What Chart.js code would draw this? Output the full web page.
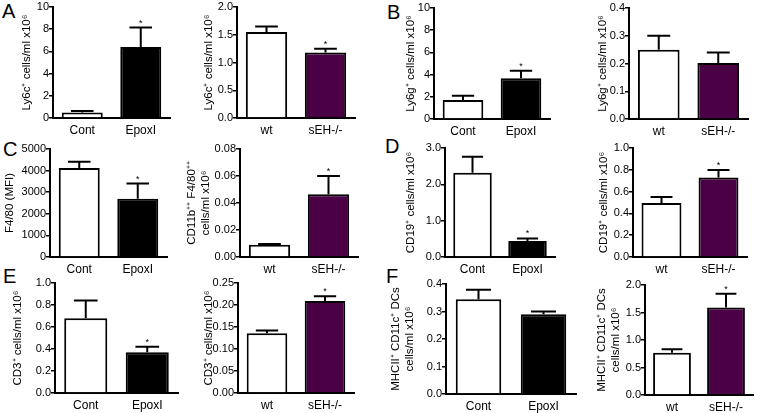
<!DOCTYPE html>
<html><head><meta charset="utf-8">
<script src="https://cdn.jsdelivr.net/npm/chart.js@4/dist/chart.umd.min.js"></script>
<style>
html,body{margin:0;padding:0;background:#fff;width:760px;height:413px;overflow:hidden;position:relative;font-family:"Liberation Sans",Arial,sans-serif}
canvas{position:absolute}
.lbl{position:absolute;font-size:20px;line-height:20px;color:#000;font-family:"Liberation Sans",Arial,sans-serif}
</style></head><body>
<div class="lbl" style="left:2px;top:1px">A</div>
<div class="lbl" style="left:387px;top:2px">B</div>
<div class="lbl" style="left:3px;top:139px">C</div>
<div class="lbl" style="left:385px;top:136px">D</div>
<div class="lbl" style="left:3px;top:266px">E</div>
<div class="lbl" style="left:386px;top:266px">F</div>
<script>
// ---- categories ----
const catsEpoxI = ['Cont', 'EpoxI'];
const catsKnockout = ['wt', 'sEH-/-'];

// ---- A: Ly6c+ ----
const ly6cEpoxIMean = [0.5, 6.4];
const ly6cEpoxISem = [0.12, 1.75];
const ly6cEpoxIStar = [false, true];
const ly6cKoMean = [1.55, 1.18];
const ly6cKoSem = [0.1, 0.07];
const ly6cKoStar = [false, true];

// ---- B: Ly6g+ ----
const ly6gEpoxIMean = [1.72, 3.67];
const ly6gEpoxISem = [0.38, 0.68];
const ly6gEpoxIStar = [false, true];
const ly6gKoMean = [0.25, 0.202];
const ly6gKoSem = [0.05, 0.038];
const ly6gKoStar = [false, false];

// ---- C: F4/80 ----
const f480EpoxIMean = [4120, 2700];
const f480EpoxISem = [290, 700];
const f480EpoxIStar = [false, true];
const cd11bKoMean = [0.0091, 0.0465];
const cd11bKoSem = [0.0006, 0.0135];
const cd11bKoStar = [false, true];

// ---- D: CD19+ ----
const cd19EpoxIMean = [2.32, 0.44];
const cd19EpoxISem = [0.44, 0.07];
const cd19EpoxIStar = [false, true];
const cd19KoMean = [0.495, 0.73];
const cd19KoSem = [0.055, 0.068];
const cd19KoStar = [false, true];

// ---- E: CD3+ ----
const cd3EpoxIMean = [0.68, 0.37];
const cd3EpoxISem = [0.16, 0.05];
const cd3EpoxIStar = [false, true];
const cd3KoMean = [0.136, 0.209];
const cd3KoSem = [0.006, 0.011];
const cd3KoStar = [false, true];

// ---- F: MHCII+ CD11c+ DCs ----
const dcEpoxIMean = [0.345, 0.29];
const dcEpoxISem = [0.034, 0.01];
const dcEpoxIStar = [false, false];
const dcKoMean = [0.77, 1.59];
const dcKoSem = [0.06, 0.25];
const dcKoStar = [false, true];

// ---- tick labels ----
const ticksA1 = ['0', '2', '4', '6', '8', '10'];
const ticksA2 = ['0.0', '0.5', '1.0', '1.5', '2.0'];
const ticksB1 = ['0', '2', '4', '6', '8', '10'];
const ticksB2 = ['0.0', '0.1', '0.2', '0.3', '0.4'];
const ticksC1 = ['0', '1000', '2000', '3000', '4000', '5000'];
const ticksC2 = ['0.00', '0.02', '0.04', '0.06', '0.08'];
const ticksD1 = ['0.0', '1.0', '2.0', '3.0'];
const ticksD2 = ['0.0', '0.2', '0.4', '0.6', '0.8', '1.0'];
const ticksE1 = ['0.0', '0.2', '0.4', '0.6', '0.8', '1.0'];
const ticksE2 = ['0.00', '0.05', '0.10', '0.15', '0.20', '0.25'];
const ticksF1 = ['0.0', '0.1', '0.2', '0.3', '0.4'];
const ticksF2 = ['0.0', '0.5', '1.0', '1.5', '2.0'];

// ---- axis titles ----
const titleLy6c = 'Ly6c\u207A cells/ml x10\u2076';
const titleLy6g = 'Ly6g\u207A cells/ml x10\u2076';
const titleF480 = 'F4/80 (MFI)';
const titleCd11b = ['CD11b\u207A\u207A F4/80\u207A\u207A', 'cells/ml x10\u2076'];
const titleCd19 = 'CD19\u207A cells/ml x10\u2076';
const titleCd3 = 'CD3\u207A cells/ml x10\u2076';
const titleDc = ['MHCII\u207A CD11c\u207A DCs', 'cells/ml x10\u2076'];

// ---- colours ----
const colEpoxI = ['#ffffff', '#000000'];
const colKo = ['#ffffff', '#4b0046'];

const FONT = '"Liberation Sans", Arial, sans-serif';
Chart.defaults.font.family = FONT;
Chart.defaults.color = '#000';

const panels = [
  {cats: catsEpoxI, mean: ly6cEpoxIMean, sem: ly6cEpoxISem, star: ly6cEpoxIStar, ticks: ticksA1, title: titleLy6c, col: colEpoxI,
   box: {axisX: 53, axisEnd: 170, top: 6.5, bottom: 117.5, titleX: 27}},
  {cats: catsKnockout, mean: ly6cKoMean, sem: ly6cKoSem, star: ly6cKoStar, ticks: ticksA2, title: titleLy6c, col: colKo,
   box: {axisX: 237, axisEnd: 355, top: 6.5, bottom: 117.5, titleX: 209}},
  {cats: catsEpoxI, mean: ly6gEpoxIMean, sem: ly6gEpoxISem, star: ly6gEpoxIStar, ticks: ticksB1, title: titleLy6g, col: colEpoxI,
   box: {axisX: 434, axisEnd: 550, top: 7.5, bottom: 118, titleX: 411}},
  {cats: catsKnockout, mean: ly6gKoMean, sem: ly6gKoSem, star: ly6gKoStar, ticks: ticksB2, title: titleLy6g, col: colKo,
   box: {axisX: 629, axisEnd: 748, top: 7.5, bottom: 118, titleX: 603}},
  {cats: catsEpoxI, mean: f480EpoxIMean, sem: f480EpoxISem, star: f480EpoxIStar, ticks: ticksC1, title: titleF480, col: colEpoxI,
   box: {axisX: 50, axisEnd: 167, top: 149, bottom: 257, titleX: 10}},
  {cats: catsKnockout, mean: cd11bKoMean, sem: cd11bKoSem, star: cd11bKoStar, ticks: ticksC2, title: titleCd11b, col: colKo,
   box: {axisX: 240, axisEnd: 358, top: 149, bottom: 257, titleX: 192}},
  {cats: catsEpoxI, mean: cd19EpoxIMean, sem: cd19EpoxISem, star: cd19EpoxIStar, ticks: ticksD1, title: titleCd19, col: colEpoxI,
   box: {axisX: 445, axisEnd: 555, top: 148, bottom: 257, titleX: 411}},
  {cats: catsKnockout, mean: cd19KoMean, sem: cd19KoSem, star: cd19KoStar, ticks: ticksD2, title: titleCd19, col: colKo,
   box: {axisX: 633, axisEnd: 747, top: 148, bottom: 257, titleX: 604}},
  {cats: catsEpoxI, mean: cd3EpoxIMean, sem: cd3EpoxISem, star: cd3EpoxIStar, ticks: ticksE1, title: titleCd3, col: colEpoxI,
   box: {axisX: 55, axisEnd: 178, top: 283, bottom: 393, titleX: 18}},
  {cats: catsKnockout, mean: cd3KoMean, sem: cd3KoSem, star: cd3KoStar, ticks: ticksE2, title: titleCd3, col: colKo,
   box: {axisX: 238, axisEnd: 354, top: 283, bottom: 393, titleX: 209}},
  {cats: catsEpoxI, mean: dcEpoxIMean, sem: dcEpoxISem, star: dcEpoxIStar, ticks: ticksF1, title: titleDc, col: colEpoxI,
   box: {axisX: 446, axisEnd: 576, top: 284, bottom: 394, titleX: 396}},
  {cats: catsKnockout, mean: dcKoMean, sem: dcKoSem, star: dcKoStar, ticks: ticksF2, title: titleDc, col: colKo,
   box: {axisX: 645, axisEnd: 753, top: 285, bottom: 395, titleX: 602}}
];

function errorBarPlugin(p) {
  return {
    id: 'errbars',
    afterDatasetsDraw(chart) {
      const meta = chart.getDatasetMeta(0);
      const ys = chart.scales.y;
      const ctx = chart.ctx;
      ctx.save();
      ctx.strokeStyle = '#000';
      ctx.fillStyle = '#000';
      ctx.lineWidth = 2;
      meta.data.forEach((bar, i) => {
        const top = ys.getPixelForValue(p.mean[i] + p.sem[i]);
        const capW = bar.width * 0.55;
        ctx.beginPath();
        ctx.moveTo(bar.x, bar.y);
        ctx.lineTo(bar.x, top);
        ctx.moveTo(bar.x - capW / 2, top);
        ctx.lineTo(bar.x + capW / 2, top);
        ctx.stroke();
        if (p.star[i]) {
          ctx.font = '9px ' + FONT;
          ctx.textAlign = 'center';
          ctx.textBaseline = 'alphabetic';
          ctx.fillText('*', bar.x, top - 2);
        }
      });
      ctx.restore();
    }
  };
}

function makePanel(p) {
  const b = p.box;
  const padTop = 10, padRight = 10, hx = 24;
  const tSize = 11.5;
  const lh = tSize * 1.2;
  const L = Math.round(b.titleX - 12);
  const wy = b.axisX - L;
  const titlePad = b.titleX - L - lh / 2;
  const plotH = b.bottom - b.top;
  const w = Math.round(b.axisEnd - L + padRight);
  const h = Math.round(padTop + plotH + hx);
  const cv = document.createElement('canvas');
  cv.width = w; cv.height = h;
  cv.style.width = w + 'px'; cv.style.height = h + 'px';
  cv.style.left = L + 'px';
  cv.style.top = Math.round(b.top - padTop) + 'px';
  document.body.appendChild(cv);
  const tickVals = p.ticks.map(Number);
  new Chart(cv, {
    type: 'bar',
    data: {
      labels: p.cats,
      datasets: [{
        data: p.mean,
        backgroundColor: p.col,
        borderColor: '#000',
        borderWidth: 2,
        borderSkipped: 'start',
        barPercentage: 0.7,
        categoryPercentage: 1
      }]
    },
    options: {
      responsive: false,
      animation: false,
      devicePixelRatio: 1,
      events: [],
      layout: {padding: {top: padTop, right: padRight, left: 0, bottom: 0}},
      plugins: {legend: {display: false}, tooltip: {enabled: false}},
      scales: {
        x: {
          grid: {display: true, drawOnChartArea: false, drawTicks: false},
          border: {display: true, color: '#000', width: 2},
          ticks: {color: '#000', font: {size: 12, family: FONT}, padding: 5, maxRotation: 0},
          afterFit(s) { s.height = hx; }
        },
        y: {
          min: 0,
          max: tickVals[tickVals.length - 1],
          afterBuildTicks(s) { s.ticks = tickVals.map(v => ({value: v})); },
          ticks: {color: '#000', font: {size: 11, family: FONT}, padding: 0, autoSkip: false,
                  callback: (v, i) => p.ticks[i]},
          grid: {drawOnChartArea: false, drawTicks: true, tickLength: 4, color: '#000', lineWidth: 1.5},
          border: {display: true, color: '#000', width: 2},
          title: {display: true, text: p.title, color: '#000', font: {size: tSize, family: FONT},
                  padding: {top: titlePad, bottom: 0}},
          afterFit(s) { s.width = wy; }
        }
      }
    },
    plugins: [errorBarPlugin(p)]
  });
}

panels.forEach(makePanel);
</script>
</body></html>
